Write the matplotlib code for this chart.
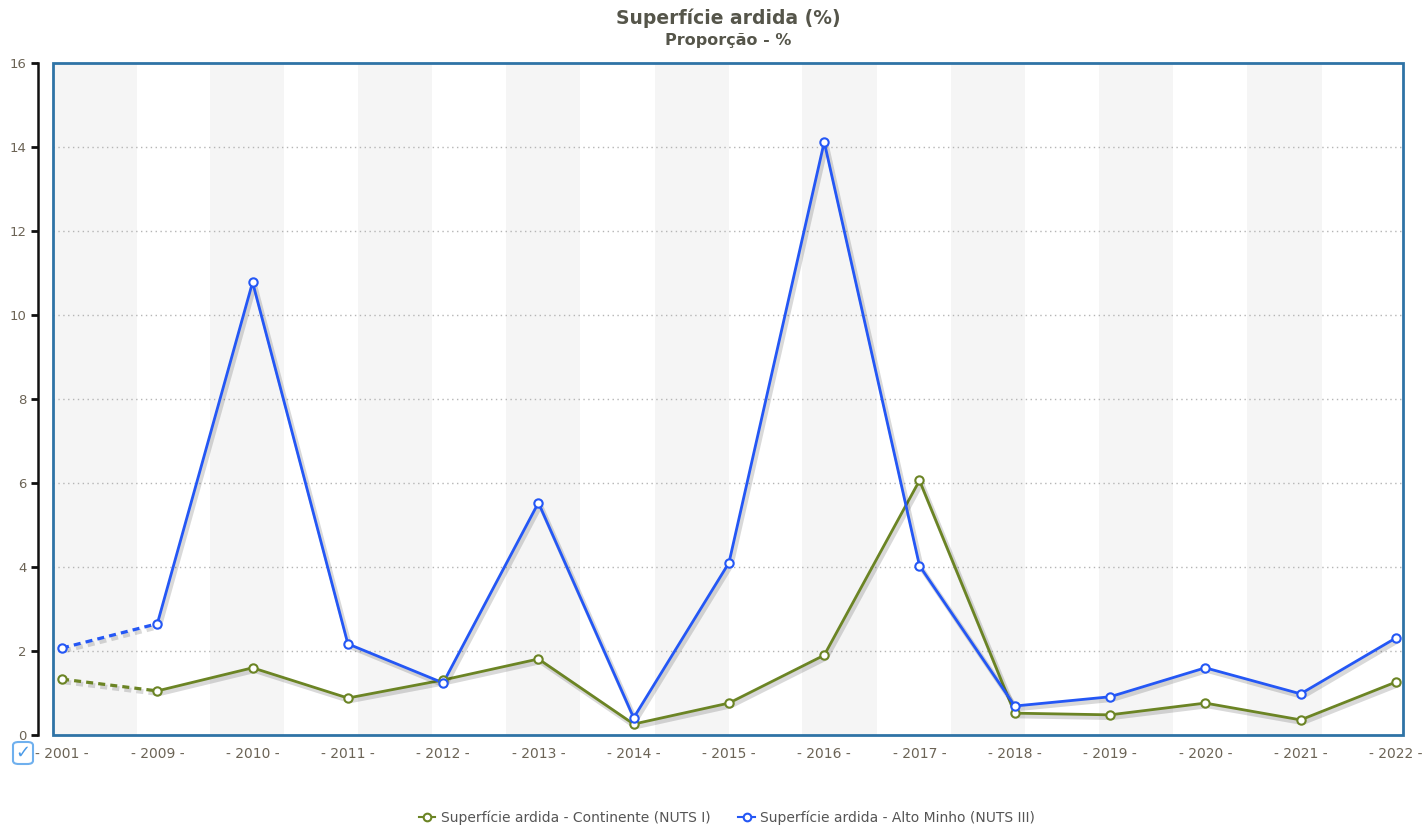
import matplotlib
matplotlib.use("Agg")
import matplotlib.pyplot as plt
import matplotlib.patheffects as pe
from matplotlib.patches import Rectangle, FancyBboxPatch
from matplotlib.lines import Line2D
import numpy as np

years = ["2001", "2009", "2010", "2011", "2012", "2013", "2014", "2015",
         "2016", "2017", "2018", "2019", "2020", "2021", "2022"]
continente = [1.33, 1.05, 1.60, 0.88, 1.31, 1.81, 0.26, 0.76,
              1.90, 6.06, 0.52, 0.48, 0.76, 0.36, 1.26]
alto_minho = [2.07, 2.65, 10.78, 2.17, 1.24, 5.53, 0.41, 4.10,
              14.12, 4.03, 0.69, 0.91, 1.60, 0.98, 2.31]
y_ticks = [0, 2, 4, 6, 8, 10, 12, 14, 16]

name_cont = "Superfície ardida - Continente (NUTS I)"
name_am = "Superfície ardida - Alto Minho (NUTS III)"
title = "Superfície ardida (%)"
subtitle = "Proporção - %"

col_cont = "#6b8424"
col_am = "#2457f5"
frame_col = "#2f73a6"
txt_col = "#6b6355"

W, H = 1422, 827
fig = plt.figure(figsize=(W / 100, H / 100), dpi=100)
L, R, T, B = 53, 1403, 63, 735
ax = fig.add_axes([L / W, 1 - B / H, (R - L) / W, (B - T) / H])

x = np.arange(len(years))
ax.set_xlim(-0.095, 14.075)
ax.set_ylim(0, 16)

# alternating background bands (pixel based)
px_per_unit = (R - L) / (14.075 + 0.095)
def px2x(px):
    return -0.095 + (px - L) / px_per_unit
bands = [(53, 137), (210, 284), (358, 432), (506, 580), (655, 729),
         (802, 877), (951, 1025), (1099, 1173), (1247, 1322)]
for a, b in bands:
    ax.axvspan(px2x(a), px2x(b), color="#f5f5f5", zorder=0, lw=0)

# grid
for yv in y_ticks[1:-1]:
    ax.axhline(yv, color="#b5b5b5", lw=1.0, ls=(0, (1, 2.5)), zorder=1)

shadow = [pe.SimpleLineShadow(offset=(1.5, -2), shadow_color="#000000", alpha=0.15, linewidth=3.5), pe.Normal()]

for vals, col in [(continente, col_cont), (alto_minho, col_am)]:
    ax.plot(x[:2], vals[:2], color=col, lw=2.3, ls=(0, (2.2, 1.6)), zorder=3,
            path_effects=shadow)
    ax.plot(x[1:], vals[1:], color=col, lw=2.0, zorder=3, path_effects=shadow)
    ax.plot(x, vals, ls="none", marker="o", ms=6, mfc="white", mec=col,
            mew=1.5, zorder=4)

# frame
for s in ["top", "right", "bottom"]:
    ax.spines[s].set_visible(False)
ax.add_patch(Rectangle((0, 0), 1, 1, transform=ax.transAxes, fill=False,
                       ec=frame_col, lw=2.0, zorder=5, clip_on=False))
ax.spines["left"].set_position(("outward", 11))
ax.spines["left"].set_color("#111111")
ax.spines["left"].set_linewidth(1.8)

ax.set_yticks(y_ticks)
ax.set_yticklabels([str(v) for v in y_ticks])
ax.tick_params(axis="y", direction="out", length=5, width=2, color="#111111",
               labelsize=9.5, labelcolor=txt_col, pad=3)
ax.set_xticks(x)
ax.set_xticklabels(["- " + y + " -" for y in years])
ax.tick_params(axis="x", length=0, labelsize=10, labelcolor=txt_col, pad=9)

fig.text((L + R) / 2 / W, 1 - 18 / H, title, ha="center", va="center",
         fontsize=13.5, fontweight="bold", color="#55554a")
fig.text((L + R) / 2 / W, 1 - 40 / H, subtitle, ha="center", va="center",
         fontsize=11.5, fontweight="bold", color="#55554a")

# checkbox icon
cb = FancyBboxPatch((13 / W, 1 - 764 / H), 20 / W, 22 / H,
                    boxstyle="round,pad=0,rounding_size=0.004",
                    transform=fig.transFigure, fc="white", ec="#6fb0ee", lw=1.5)
fig.patches.append(cb)
fig.text(23 / W, 1 - 753 / H, "✓", ha="center", va="center", fontsize=13,
         color="#4a9ae8")

# legend
handles = [Line2D([], [], color=col_cont, lw=1.5, marker="o", ms=5.5, mfc="white", mec=col_cont, mew=1.5),
           Line2D([], [], color=col_am, lw=1.5, marker="o", ms=5.5, mfc="white", mec=col_am, mew=1.5)]
leg = fig.legend(handles, [name_cont, name_am], loc="center",
                 bbox_to_anchor=(727 / W, 1 - 818 / H), ncol=2, frameon=False,
                 fontsize=10, handlelength=1.2, handletextpad=0.4, columnspacing=2.0)
for t in leg.get_texts():
    t.set_color("#555555")

fig.savefig("out.png", dpi=100)
